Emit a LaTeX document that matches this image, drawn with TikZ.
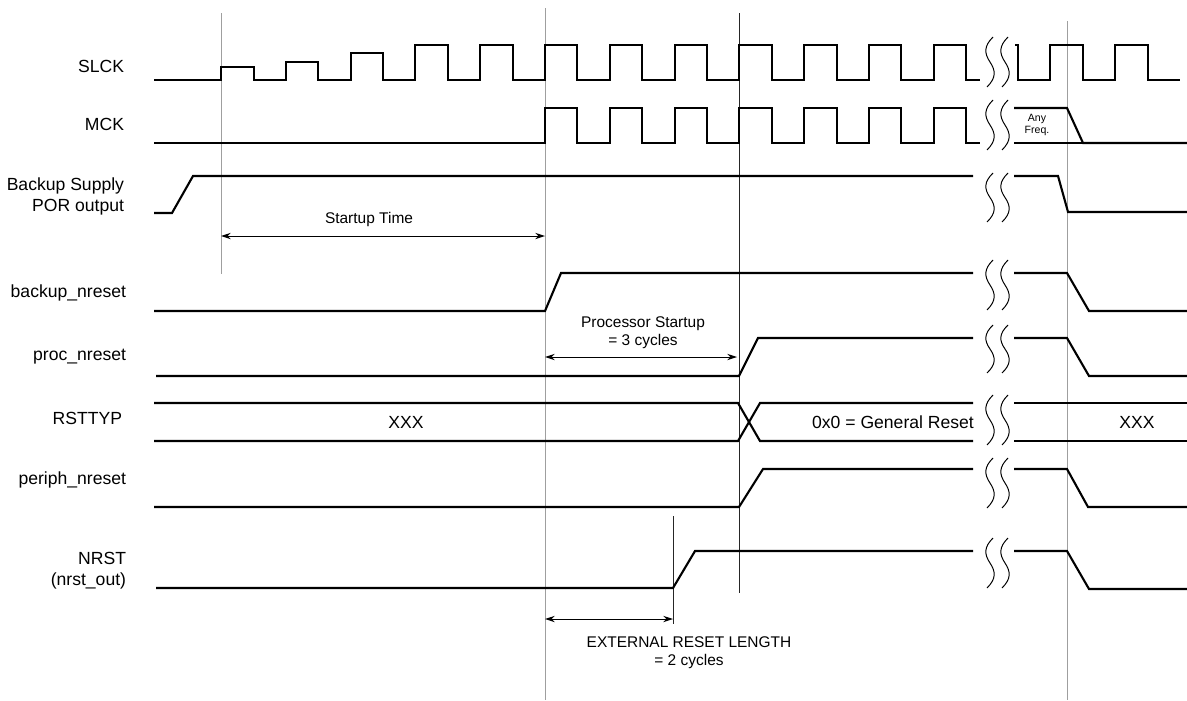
\documentclass[tikz,border=0pt]{standalone}
\usepackage{fontspec}
\setmainfont{Liberation Sans}
\usetikzlibrary{arrows.meta}

\tikzset{
    sig/.style={line width=1.5pt, line join=miter},
    marker/.style={gray!75, line width=0.7pt},
    dim/.style={line width=0.7pt, {Stealth[length=7pt,width=4.5pt]}-{Stealth[length=7pt,width=4.5pt]}},
    brk/.style={line width=0.7pt},
    lbl/.style={anchor=east, align=right, font=\fontsize{12.5}{15}\selectfont},
    note/.style={align=center, font=\fontsize{11}{13}\selectfont}
}

% break in the time axis: #1 = top, #2 = height
\newcommand{\cutmark}[2]{%
    \foreach \brkx in {990,1005}{
        \draw[brk] (\brkx+3,#1) .. controls (\brkx-6,#1+0.18*#2) and (\brkx-6,#1+0.32*#2) .. (\brkx,#1+0.5*#2)
            .. controls (\brkx+6,#1+0.68*#2) and (\brkx+6,#1+0.82*#2) .. (\brkx-3,#1+#2);
    }}

\begin{document}
\begin{tikzpicture}[x=0.025cm, y=-0.025cm]
    \useasboundingbox (0,0) rectangle (1187,700);

    % markers
    \draw[marker] (221,13) -- (221,274);
    \draw[marker] (545,8) -- (545,700);
    \draw[marker, black!85] (739,13) -- (739,593);
    \draw[marker, black!85] (673,516) -- (673,624);
    \draw[marker] (1067,21) -- (1067,700);

    % labels
        \node[lbl] (slck) at (129,66) {SLCK};
        \node[lbl] (mck) at (129,124) {MCK};
        \node[lbl] (por) at (129,196) {Backup Supply\\POR output};
        \node[lbl] (bnr) at (131,293) {backup\_nreset};
        \node[lbl] (pnr) at (131,357) {proc\_nreset};
        \node[lbl] (rst) at (127,418) {RSTTYP};
        \node[lbl] (phr) at (131,480) {periph\_nreset};
        \node[lbl] (nrst) at (131,571) {NRST\\(nrst\_out)};

    % SLCK
    \draw[sig] (154,80) -| (221,67) -| (254,80) -| (286,62) -| (318,80) -| (351,53) -| (383,80)
        -| (415,45) -| (448,80) -| (480,45) -| (513,80) -| (545,45) -| (577,80) -| (610,45) -| (642,80)
        -| (675,45) -| (707,80) -| (739,45) -| (772,80) -| (804,45) -| (837,80) -| (869,45) -| (901,80)
        -| (934,45) -| (966,80) -- (980,80);
    \draw[sig] (1015,45) -| (1018,80) -| (1050,45) -| (1083,80) -| (1115,45) -| (1148,80) -- (1180,80);
    \cutmark{37}{50}

    % MCK
    \draw[sig] (154,143) -| (545,108) -| (577,143) -| (610,108) -| (642,143) -| (675,108) -| (707,143)
        -| (739,108) -| (772,143) -| (804,108) -| (837,143) -| (869,108) -| (901,143) -| (934,108)
        -| (966,143) -- (980,143);
    \draw[sig] (1014,108) -- (1067,108) -- (1083,143) -- (1187,143);
    \draw[sig] (1014,143) -- (1083,143);
        \node[align=center, font=\fontsize{7.5}{9}\selectfont] (anyf) at (1037,125) {Any\\Freq.};
    \cutmark{100}{50}

    % Backup Supply POR output
    \draw[sig] (154,213) -- (172,213) -- (193,176) -- (973,176);
    \draw[sig] (1014,176) -- (1058,176) -- (1068,212) -- (1187,212);
    \cutmark{173}{49}

    % startup time
    \coordinate (st1) at (221,236);
    \coordinate (st2) at (545,236);
    \draw[dim] (st1) -- (st2);
        \node[note] (stt) at (369,219) {Startup Time};

    % backup_nreset
    \draw[sig] (154,311) -- (545,311) -- (561,273) -- (973,273);
    \draw[sig] (1014,273) -- (1067,273) -- (1089,311) -- (1187,311);
    \cutmark{260}{50}

    % processor startup
    \coordinate (ps1) at (545,357);
    \coordinate (ps2) at (737,357);
    \draw[dim] (ps1) -- (ps2);
        \node[note] (pst) at (643,333) {Processor Startup\\= 3 cycles};

    % proc_nreset
    \draw[sig] (156,376) -- (739,376) -- (758,338) -- (973,338);
    \draw[sig] (1014,338) -- (1067,338) -- (1089,376) -- (1187,376);
    \cutmark{325}{48}

    % RSTTYP
    \draw[sig] (154,403) -- (738,403) -- (760,441) -- (973,441);
    \draw[sig] (154,441) -- (738,441) -- (760,403) -- (973,403);
    \draw[sig] (1014,403) -- (1187,403);
    \draw[sig] (1014,441) -- (1187,441);
        \node[font=\fontsize{12.5}{15}\selectfont] (xxa) at (406,422) {XXX};
        \node[font=\fontsize{12.5}{15}\selectfont] (gen) at (893,422) {0x0 = General Reset};
        \node[font=\fontsize{12.5}{15}\selectfont] (xxb) at (1137,422) {XXX};
    \cutmark{395}{50}

    % periph_nreset
    \draw[sig] (154,507) -- (739,507) -- (763,469) -- (973,469);
    \draw[sig] (1014,469) -- (1067,469) -- (1088,507) -- (1187,507);
    \cutmark{458}{50}

    % NRST
    \draw[sig] (156,588) -- (673,588) -- (695,551) -- (973,551);
    \draw[sig] (1014,551) -- (1067,551) -- (1089,589) -- (1187,589);
    \cutmark{538}{50}

    % external reset length
    \coordinate (er1) at (545,619);
    \coordinate (er2) at (673,619);
    \draw[dim] (er1) -- (er2);
        \node[note] (ert) at (689,653) {EXTERNAL RESET LENGTH\\= 2 cycles};

\end{tikzpicture}
\end{document}
